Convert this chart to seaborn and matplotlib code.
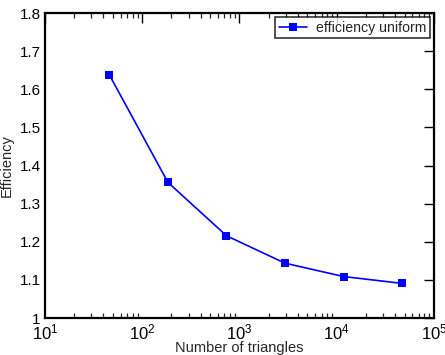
import math
import matplotlib
matplotlib.use("Agg")
import matplotlib.pyplot as plt
import seaborn as sns
import pandas as pd
from matplotlib.ticker import LogLocator, FixedLocator, FuncFormatter

triangles = [46, 184, 736, 2944, 11776, 47104]
efficiency = [1.638, 1.356, 1.216, 1.144, 1.109, 1.091]
series_name = "efficiency uniform"
y_ticks = [1.0, 1.1, 1.2, 1.3, 1.4, 1.5, 1.6, 1.7, 1.8]
y_labels = ["1", "1.1", "1.2", "1.3", "1.4", "1.5", "1.6", "1.7", "1.8"]

df = pd.DataFrame({"triangles": triangles, "efficiency": efficiency,
                   "series": [series_name] * len(triangles)})

sns.set_style("white")
plt.rcParams['font.family'] = ['Liberation Sans', 'DejaVu Sans']
plt.rcParams['mathtext.fontset'] = 'custom'
plt.rcParams['mathtext.rm'] = 'Liberation Sans'
plt.rcParams['mathtext.it'] = 'Liberation Sans'

fig = plt.figure(figsize=(4.45, 3.55), dpi=100)
ax = fig.add_axes([0.101, 0.104, 0.874, 0.859])

sns.lineplot(data=df, x="triangles", y="efficiency", hue="series",
             palette=["#0000ff"], marker="s", markersize=5.5,
             markeredgewidth=0, linewidth=1.2, ax=ax)

ax.set_xscale("log")
ax.set_xlim(10, 1e5)
ax.set_ylim(1.0, 1.8)
ax.yaxis.set_major_locator(FixedLocator(y_ticks))
ax.set_yticklabels(y_labels)
ax.xaxis.set_major_locator(LogLocator(base=10, numticks=10))
ax.xaxis.set_minor_locator(LogLocator(base=10, subs=range(2, 10), numticks=20))
ax.xaxis.set_major_formatter(FuncFormatter(lambda v, p: r"$10^{%d}$" % round(math.log10(v))))

for s in ax.spines.values():
    s.set_linewidth(1.6)
    s.set_color("black")

ax.tick_params(axis="both", which="major", direction="in", length=7, width=1.0,
               top=True, right=True, labelsize=11, pad=3, colors="black")
ax.tick_params(axis="x", which="minor", direction="in", length=3.5, width=0.9,
               top=True, bottom=True)
ax.tick_params(axis="x", which="major", labelsize=12)

ax.set_xlabel("Number of triangles", fontsize=10.5, labelpad=-1)
ax.set_ylabel("Efficiency", fontsize=10.5, labelpad=4)

leg = ax.legend(loc="upper right", fontsize=10.2, frameon=True, fancybox=False,
                borderpad=0.25, handlelength=2.0, handletextpad=0.6,
                borderaxespad=0.3)
leg.get_frame().set_edgecolor("black")
leg.get_frame().set_linewidth(1.2)

fig.savefig("out.png", dpi=100)
